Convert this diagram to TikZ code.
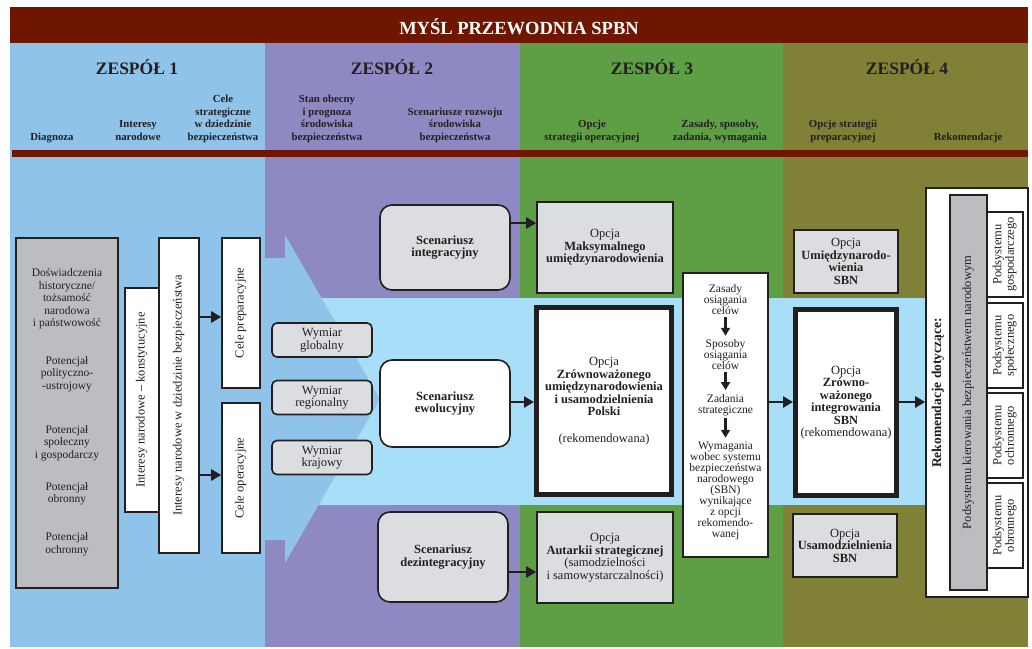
\documentclass[tikz,border=0pt]{standalone}
\usepackage{fontspec}
\setmainfont{Liberation Serif}
\usetikzlibrary{arrows.meta}
\definecolor{titlered}{RGB}{110,22,0}
\definecolor{teamone}{RGB}{143,195,234}
\definecolor{teamtwo}{RGB}{142,137,194}
\definecolor{teamthree}{RGB}{94,158,69}
\definecolor{teamfour}{RGB}{128,128,54}
\definecolor{band}{RGB}{168,222,248}
\definecolor{ink}{RGB}{35,31,32}
\definecolor{boxgrey}{RGB}{188,189,193}
\definecolor{boxlight}{RGB}{220,221,224}
\newcommand{\turned}[1]{\rotatebox{90}{\begin{tabular}{@{}c@{}}#1\end{tabular}}}
\tikzset{
  box/.style = {draw = ink, line width = 1.6, fill = white, align = center, inner sep = 2, text = ink, font = \fontsize{12.5}{12.5}\selectfont},
  greybox/.style = {box, fill = boxgrey},
  lightbox/.style = {box, fill = boxlight},
  roundbox/.style = {lightbox, rounded corners = 5},
  heavybox/.style = {box, line width = 5},
  strong/.style = {font = \bfseries\fontsize{12.5}{12.5}\selectfont},
  lbl/.style = {inner sep = 0, align = center, text = ink, font = \fontsize{11.5}{12.5}\selectfont},
  zhead/.style = {text = ink, font = \bfseries\fontsize{17.5}{20}\selectfont},
  subhead/.style = {anchor = south, inner sep = 0, align = center, text = ink, font = \bfseries\fontsize{10.8}{12.5}\selectfont, execute at end node = \strut},
  arr/.style = {draw = ink, line width = 2.5, -{Triangle[length = 10pt, width = 11pt]}},
  downarr/.style = {draw = ink, line width = 2.2, -{Triangle[length = 8pt, width = 9pt]}}
}
\begin{document}
\begin{tikzpicture}[x = 1pt, y = -1pt]
\useasboundingbox (0, 0) rectangle (1032, 648);
\fill [titlered] (10, 7) rectangle (1028, 43);
\fill [teamone] (10, 43) rectangle (265, 647);
\fill [teamtwo] (265, 43) rectangle (520, 647);
\fill [teamthree] (520, 43) rectangle (783, 647);
\fill [teamfour] (783, 43) rectangle (1028, 647);
\fill [titlered] (12, 150) rectangle (1028, 157);
\fill [band] (265, 298) rectangle (1028, 505);
\fill [teamone] (265, 258) -- (285, 258) -- (285, 235) -- (380, 399) -- (285, 563) -- (285, 540) -- (265, 540) -- cycle;

\node [text = white, font = \bfseries\fontsize{18.5}{20}\selectfont] (title) at (519, 27) {MYŚL PRZEWODNIA SPBN};
\node [zhead] (zone1) at (137, 67) {ZESPÓŁ 1};
\node [zhead] (zone2) at (392, 67) {ZESPÓŁ 2};
\node [zhead] (zone3) at (652, 67) {ZESPÓŁ 3};
\node [zhead] (zone4) at (907, 67) {ZESPÓŁ 4};

\node [subhead] (hdiag) at (52, 144) {Diagnoza};
\node [subhead] (hint) at (138, 144) {Interesy\\narodowe};
\node [subhead] (hcele) at (223, 144) {Cele\\strategiczne\\w dziedzinie\\bezpieczeństwa};
\node [subhead] (hstan) at (327, 144) {Stan obecny\\i prognoza\\środowiska\\bezpieczeństwa};
\node [subhead] (hscen) at (455, 144) {Scenariusze rozwoju\\środowiska\\bezpieczeństwa};
\node [subhead] (hopc) at (592, 144) {Opcje\\strategii operacyjnej};
\node [subhead] (hzas) at (720, 144) {Zasady, sposoby,\\zadania, wymagania};
\node [subhead] (hprep) at (843, 144) {Opcje strategii\\preparacyjnej};
\node [subhead] (hrek) at (968, 144) {Rekomendacje};

\node [greybox, minimum width = 102, minimum height = 350] (diag) at (67, 413) {};
\node [lbl] (dhist) at (67, 299) {Doświadczenia\\historyczne/\\tożsamość\\narodowa\\i państwowość};
\node [lbl] (dpol) at (67, 374) {Potencjał\\polityczno-\\-ustrojowy};
\node [lbl] (dspo) at (67, 443) {Potencjał\\społeczny\\i gospodarczy};
\node [lbl] (dobr) at (67, 493.5) {Potencjał\\obronny};
\node [lbl] (doch) at (67, 544) {Potencjał\\ochronny};

\node [box, minimum width = 34, minimum height = 224] (intk) at (142, 400) {\turned{Interesy narodowe – konstytucyjne}};
\node [box, minimum width = 40, minimum height = 315] (intb) at (179, 395.5) {\turned{Interesy narodowe w dziedzinie bezpieczeństwa}};
\node [box, minimum width = 38, minimum height = 150] (celp) at (241, 313) {\turned{Cele preparacyjne}};
\node [box, minimum width = 38, minimum height = 150] (celo) at (241, 478) {\turned{Cele operacyjne}};
\draw [arr] (intb.east |- 0, 317) -- (celp.west |- 0, 317);
\draw [arr] (intb.east |- 0, 475) -- (celo.west |- 0, 475);

\node [roundbox, minimum width = 100, minimum height = 34] (wglob) at (322, 340) {Wymiar\\globalny};
\node [roundbox, minimum width = 100, minimum height = 34] (wreg) at (322, 397.5) {Wymiar\\regionalny};
\node [roundbox, minimum width = 100, minimum height = 34] (wkraj) at (322, 457.5) {Wymiar\\krajowy};
\node [roundbox, strong, rounded corners = 12, minimum width = 130, minimum height = 85] (sint) at (445, 247.5) {Scenariusz\\integracyjny};
\node [roundbox, strong, fill = white, rounded corners = 12, minimum width = 130, minimum height = 87] (sewo) at (445, 403.5) {Scenariusz\\ewolucyjny};
\node [roundbox, strong, rounded corners = 12, minimum width = 130, minimum height = 90] (sdez) at (443, 557) {Scenariusz\\dezintegracyjny};

\node [lightbox, minimum width = 136, minimum height = 91] (omax) at (605, 247.5) {Opcja\\\textbf{Maksymalnego}\\\textbf{umiędzynarodowienia}};
\node [heavybox, minimum width = 135, minimum height = 187] (ozrow) at (604, 401) {Opcja\\\textbf{Zrównoważonego}\\\textbf{umiędzynarodowienia}\\\textbf{i usamodzielnienia}\\\textbf{Polski}\\[14pt](rekomendowana)};
\node [lightbox, minimum width = 136, minimum height = 91] (oaut) at (605, 557.5) {Opcja\\\textbf{Autarkii strategicznej}\\(samodzielności\\i samowystarczalności)};
\draw [arr] (sint.east |- 0, 223) -- (omax.west |- 0, 223);
\draw [arr] (sewo.east |- 0, 402) -- (ozrow.west |- 0, 402);
\draw [arr] (sdez.east |- 0, 572) -- (oaut.west |- 0, 572);

\node [box, minimum width = 85, minimum height = 284] (zasady) at (725.5, 415) {};
\node [lbl, font = \fontsize{11.5}{11}\selectfont] (zas1) at (725.5, 300) {Zasady\\osiągania\\celów};
\node [lbl, font = \fontsize{11.5}{11}\selectfont] (zas2) at (725.5, 355) {Sposoby\\osiągania\\celów};
\node [lbl, font = \fontsize{11.5}{11}\selectfont] (zas3) at (725.5, 405) {Zadania\\strategiczne};
\node [lbl, font = \fontsize{11.5}{11}\selectfont] (zas4) at (725.5, 491) {Wymagania\\wobec systemu\\bezpieczeństwa\\narodowego\\(SBN)\\wynikające\\z opcji\\rekomendo-\\wanej};
\draw [downarr, shorten <= 2, shorten >= 4] (zas1.south) -- (zas2.north);
\draw [downarr, shorten <= 2, shorten >= 4] (zas2.south) -- (zas3.north);
\draw [downarr, shorten <= 2, shorten >= 4] (zas3.south) -- (zas4.north);

\node [lightbox, minimum width = 104, minimum height = 63] (oumi) at (846, 261.5) {Opcja\\\textbf{Umiędzynarodo-}\\\textbf{wienia}\\\textbf{SBN}};
\node [heavybox, minimum width = 101, minimum height = 186] (ointeg) at (846, 402.5) {Opcja\\\textbf{Zrówno-}\\\textbf{ważonego}\\\textbf{integrowania}\\\textbf{SBN}\\(rekomendowana)};
\node [lightbox, minimum width = 104, minimum height = 63] (ousam) at (845, 545.5) {Opcja\\\textbf{Usamodzielnienia}\\\textbf{SBN}};
\draw [arr] (zasady.east |- 0, 402) -- (ointeg.west |- 0, 402);

\node [box, minimum width = 102, minimum height = 409] (rekom) at (977, 392.5) {};
\draw [arr] (ointeg.east |- 0, 402) -- (rekom.west |- 0, 402);
\node [lbl, font = \bfseries\fontsize{13.5}{14}\selectfont] (rekt) at (938, 393) {\rotatebox{90}{Rekomendacje dotyczące:}};
\node [greybox, minimum width = 37, minimum height = 395] (pkier) at (968.5, 392.5) {\turned{Podsystemu kierowania bezpieczeństwem narodowym}};
\node [box, minimum width = 36, minimum height = 85] (pgos) at (1005, 254.5) {\turned{Podsystemu\\gospodarczego}};
\node [box, minimum width = 36, minimum height = 85] (pspo) at (1005, 345.5) {\turned{Podsystemu\\społecznego}};
\node [box, minimum width = 36, minimum height = 85] (poch) at (1005, 435.5) {\turned{Podsystemu\\ochronnego}};
\node [box, minimum width = 36, minimum height = 85] (pobr) at (1005, 525.5) {\turned{Podsystemu\\obronnego}};
\end{tikzpicture}
\end{document}
